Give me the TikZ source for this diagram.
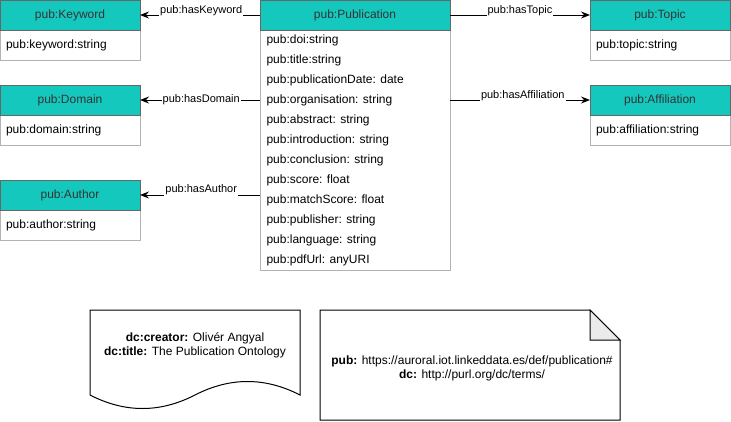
\documentclass[tikz,border=0pt]{standalone}
\usepackage{fontspec}
\setmainfont{Liberation Sans}
\usepackage{tikz}
\usetikzlibrary{arrows.meta,calc}
\definecolor{headfill}{RGB}{20,200,190}
\definecolor{headline}{HTML}{666666}
\definecolor{headtext}{HTML}{333333}
\definecolor{bodyline}{HTML}{B3B3B3}
\definecolor{foldfill}{HTML}{EBEBEB}
\tikzstyle{headbox}=[rectangle,draw=headline,fill=headfill,text=headtext,minimum width=140pt,minimum height=30pt,outer sep=0pt,font=\fontsize{12}{14}\selectfont]
\tikzstyle{attrbox}=[rectangle,draw=bodyline,fill=white,text width=128pt,inner xsep=6pt,minimum height=30pt,align=left,outer sep=0pt,font=\fontsize{12}{14}\selectfont]
\tikzstyle{row}=[inner sep=0pt,anchor=west,font=\fontsize{12}{14}\selectfont]
\tikzstyle{link}=[-{Stealth[length=9pt,width=7pt,inset=3pt]},line width=1pt]
\tikzstyle{lbl}=[fill=white,inner sep=1pt,font=\fontsize{11}{13}\selectfont]
\tikzstyle{meta}=[align=center,inner sep=0pt,font=\fontsize{12}{14}\selectfont]
\newcommand{\classBox}[6]{
	\node[attrbox] (#1b) at (#2,#4) {#6};
	\node[headbox] (#1) at (#2,#3) {#5};
}
\begin{document}
\begin{tikzpicture}[x=1pt,y=-1pt,line width=1pt]
	\useasboundingbox (0,0) rectangle (731,421);
	\classBox{kw}{70}{15}{45}{pub:Keyword}{pub:keyword:string}
	\classBox{dom}{70}{100}{130}{pub:Domain}{pub:domain:string}
	\classBox{auth}{70}{195}{225}{pub:Author}{pub:author:string}
	\classBox{top}{660}{15}{45}{pub:Topic}{pub:topic:string}
	\classBox{aff}{660}{100}{130}{pub:Affiliation}{pub:affiliation:string}
	% publication
	\node[attrbox,text width=178pt,minimum height=240pt] (pubb) at (355,150) {};
	\node[headbox,minimum width=190pt] (pub) at (355,15) {pub:Publication};
	\foreach \attr [count=\i] in {pub:doi:string,pub:title:string,pub:publicationDate: date,pub:organisation: string,pub:abstract: string,pub:introduction: string,pub:conclusion: string,pub:score: float,pub:matchScore: float,pub:publisher: string,pub:language: string,pub:pdfUrl: anyURI}
		\node[row] (row\i) at (266,20+20*\i) {\attr};
	\draw[link] (pub.west) -- node[lbl,pos=.49,yshift=4.5pt] {pub:hasKeyword} (kw.east);
	\draw[link] (dom.east -| pubb.west) -- node[lbl,pos=.49] {pub:hasDomain} (dom.east);
	\draw[link] (auth.east -| pubb.west) -- node[lbl,pos=.49,yshift=5pt] {pub:hasAuthor} (auth.east);
	\draw[link] (pub.east) -- node[lbl,pos=.5,yshift=4pt] {pub:hasTopic} (top.west);
	\draw[link] (aff.west -| pubb.east) -- node[lbl,pos=.52,yshift=4pt] {pub:hasAffiliation} (aff.west);
	% document
	\draw[fill=white] (90,310) -- (300,310) -- (300,395) .. controls (265,377) and (230,377) .. (195,395) .. controls (160,413) and (125,413) .. (90,395) -- cycle;
	\node[meta] (docinfo) at (195,345) {\textbf{dc:creator:} Olivér Angyal\\\textbf{dc:title:} The Publication Ontology};
	% note
	\draw[fill=white] (320,310) -- (590,310) -- (620,340) -- (620,420) -- (320,420) -- cycle;
	\draw[fill=foldfill] (590,310) -- (590,340) -- (620,340) -- cycle;
	\node[meta] (ns) at (472,368) {\textbf{pub:} https://auroral.iot.linkeddata.es/def/publication\#\\\textbf{dc:} http://purl.org/dc/terms/};
\end{tikzpicture}
\end{document}
